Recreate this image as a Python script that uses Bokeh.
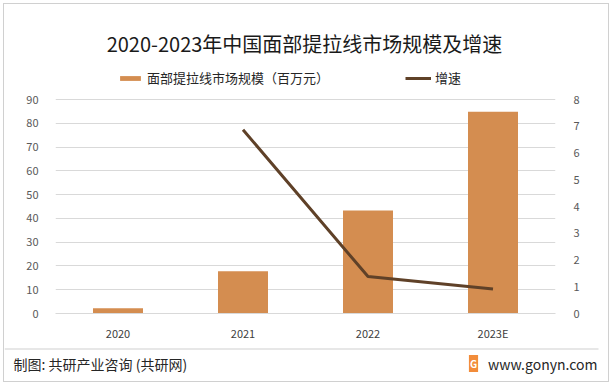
from bokeh.plotting import figure
from bokeh.layouts import column
from bokeh.models import (Range1d, LinearAxis, Legend, LegendItem, Label,
                          FixedTicker, BoxAnnotation)
from bokeh.embed import file_html
from bokeh.resources import INLINE

years = ["2020", "2021", "2022", "2023E"]
market = [2.2, 17.8, 43.3, 84.9]
growth_years = ["2021", "2022", "2023E"]
growth = [6.87, 1.38, 0.92]
left_ticks = [0, 10, 20, 30, 40, 50, 60, 70, 80, 90]
right_ticks = [0, 1, 2, 3, 4, 5, 6, 7, 8]

title_text = "2020-2023年中国面部提拉线市场规模及增速"
bar_name = "面部提拉线市场规模（百万元）"
line_name = "增速"
source_text = "制图: 共研产业咨询 (共研网)"
site_text = "www.gonyn.com"

FONT = "Noto Sans CJK SC"
BAR = "#D48D50"
LINE = "#5F4128"
GRID = "#D9D9D9"

# axis span 214px; frame extended upward to hold title + legend
AXIS_PX = 214
FRAME_PX = 309
left_max = left_ticks[-1]
right_max = right_ticks[-1]

p = figure(x_range=years,
           y_range=Range1d(0, left_max * FRAME_PX / AXIS_PX),
           width=604, height=343, title_location=None,
           output_backend="svg", toolbar_location=None,
           min_border_left=51, min_border_right=53, min_border_top=0,
           min_border_bottom=34)
p.frame_align = False
p.extra_y_ranges = {"g": Range1d(0, right_max * FRAME_PX / AXIS_PX)}

bars = p.vbar(x=years, top=market, width=0.4, color=BAR, line_color=None)
ln = p.line(x=growth_years, y=growth, y_range_name="g", line_color=LINE,
            line_width=3)

p.outline_line_color = None
p.xgrid.grid_line_color = None
p.ygrid.grid_line_color = GRID
p.ygrid.ticker = FixedTicker(ticks=left_ticks)

ya = p.yaxis[0]
ya.ticker = FixedTicker(ticks=left_ticks)
ya.axis_line_color = None
ya.major_tick_line_color = None
ya.minor_tick_line_color = None
ya.major_label_text_color = "#595959"
ya.major_label_text_font = FONT
ya.major_label_text_font_size = "11px"
ya.major_label_standoff = 11

ra = LinearAxis(y_range_name="g", ticker=FixedTicker(ticks=right_ticks))
ra.axis_line_color = None
ra.major_tick_line_color = None
ra.minor_tick_line_color = None
ra.major_label_text_color = "#595959"
ra.major_label_text_font = FONT
ra.major_label_text_font_size = "11px"
ra.major_label_standoff = 12
p.add_layout(ra, "right")

xa = p.xaxis[0]
xa.axis_line_color = GRID
xa.major_tick_line_color = None
xa.minor_tick_line_color = None
xa.major_label_text_color = "#404040"
xa.major_label_text_font = FONT
xa.major_label_text_font_size = "11px"
xa.major_label_standoff = 5

legend = Legend(items=[LegendItem(label=bar_name, renderers=[bars]),
                       LegendItem(label=line_name, renderers=[ln])],
                orientation="horizontal", location=(62, 226),
                label_text_font=FONT, label_text_font_size="13px",
                label_text_color="#262626", glyph_width=26, glyph_height=6,
                spacing=76, padding=0, margin=0, label_standoff=4,
                border_line_color=None, background_fill_alpha=0)
p.add_layout(legend, "center")

p.add_layout(Label(x=249, y=FRAME_PX - 39, x_units="screen", y_units="screen",
                   text=title_text, text_font=FONT, text_font_size="20px",
                   text_color="#1A1A1A", text_align="center",
                   text_baseline="middle"))

# footer
FOOT_W, FOOT_H = 604, 34
f = figure(width=FOOT_W, height=FOOT_H, x_range=Range1d(0, FOOT_W),
           y_range=Range1d(0, FOOT_H),
           output_backend="svg", toolbar_location=None, min_border=0,
           title_location=None, x_axis_location=None, y_axis_location=None)
f.frame_align = False
f.grid.visible = False
f.outline_line_color = None
f.add_layout(BoxAnnotation(left=0, right=FOOT_W - 10, bottom=FOOT_H - 2,
                           top=FOOT_H - 1, fill_color="#D0D0D0", fill_alpha=1,
                           line_color=None))
f.add_layout(Label(x=9, y=18, x_units="screen", y_units="screen",
                   text=source_text, text_font=FONT, text_font_size="14px",
                   text_color="#262626", text_baseline="middle"))
f.add_layout(Label(x=593, y=18, x_units="screen", y_units="screen",
                   text=site_text, text_font=FONT, text_font_size="14px",
                   text_color="#262626", text_baseline="middle",
                   text_align="right"))
f.add_layout(Label(x=469, y=18, x_units="screen", y_units="screen",
                   text="G", text_font=FONT, text_font_size="10px",
                   text_font_style="bold", text_color="white",
                   text_baseline="middle", text_align="center",
                   background_fill_color="#F28C3A", padding=1))

layout = column(p, f, spacing=0)
layout.styles = {"border": "1px solid #D0D0D0", "margin-left": "3px",
                 "margin-top": "3px"}

open("out.html", "w").write(file_html(layout, INLINE))
